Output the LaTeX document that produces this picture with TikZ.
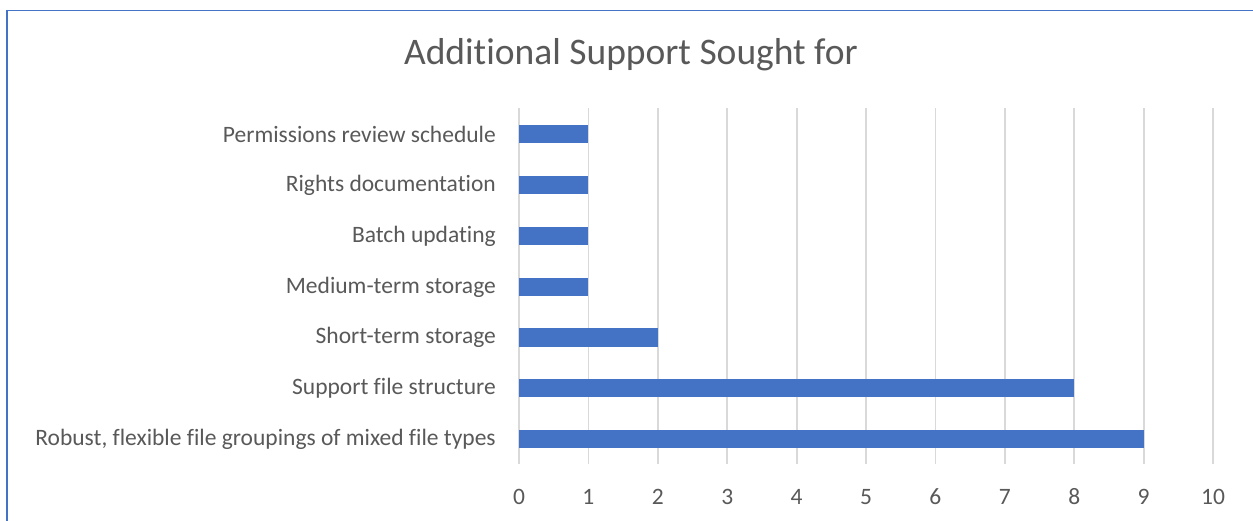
\documentclass[tikz,border=0pt]{standalone}
\usepackage{fontspec}
\setmainfont[Ligatures=NoCommon]{Carlito}
\definecolor{barblue}{HTML}{4472C4}
\definecolor{txtgray}{HTML}{595959}
\definecolor{gridgray}{HTML}{D9D9D9}
\tikzset{
	bar/.style={barblue, line width=18pt},
	catlabel/.style={left, txtgray, font=\fontsize{23.5}{28}\selectfont, inner sep=0pt},
	ticklabel/.style={txtgray, font=\fontsize{23.5}{28}\selectfont, inner sep=0pt}
}
\begin{document}
\begin{tikzpicture}[x=1pt,y=-1pt]

		\useasboundingbox (0,0) rectangle (1253,521);
		\fill[white] (0,0) rectangle (1253,521);

		%\draw[step=69.4,gray,very thin] (519,108) grid (1213,464);

		\draw[barblue, line width=1.6pt] (7,521) -- (7,10.5) -- (1253,10.5);

		\node[txtgray, font=\fontsize{37.5}{44}\selectfont] (title) at (631,55) {Additional Support Sought for};

		\foreach \v in {0,...,10} {
			\draw[gridgray, line width=1.8pt] (519+69.4*\v,108) -- (519+69.4*\v,464);
			\node[ticklabel] (tick\v) at (519+69.4*\v,497) {\v};
		}

		\draw[bar] (519,134) -- (588.4,134);
			\node[catlabel] (perm) at (496,134) {Permissions review schedule};
		\draw[bar] (519,185) -- (588.4,185);
			\node[catlabel] (rights) at (496,185) {Rights documentation};
		\draw[bar] (519,236) -- (588.4,236);
			\node[catlabel] (batch) at (496,236) {Batch updating};
		\draw[bar] (519,287) -- (588.4,287);
			\node[catlabel] (medium) at (496,287) {Medium-term storage};
		\draw[bar] (519,337.5) -- (657.8,337.5);
			\node[catlabel] (short) at (496,337.5) {Short-term storage};
		\draw[bar] (519,388) -- (1074.2,388);
			\node[catlabel] (struct) at (496,388) {Support file structure};
		\draw[bar] (519,439) -- (1143.6,439);
			\node[catlabel] (robust) at (496,439) {Robust, flexible file groupings of mixed file types};

	\end{tikzpicture}
\end{document}
